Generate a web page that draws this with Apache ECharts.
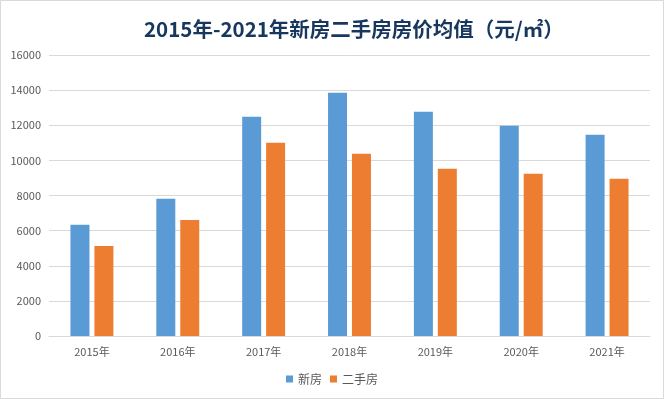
<!DOCTYPE html>
<html><head><meta charset="utf-8">
<script src="https://cdn.jsdelivr.net/npm/echarts@6/dist/echarts.min.js"></script>
<style>html,body{margin:0;padding:0;background:#fff}#c{width:664px;height:399px}</style>
</head><body><div id="c"></div>
<script>
const categories = ['2015年','2016年','2017年','2018年','2019年','2020年','2021年'];
const newHouse = [6330, 7810, 12490, 13850, 12770, 11970, 11460];
const secondHand = [5130, 6610, 11000, 10380, 9520, 9240, 8950];
const seriesNames = ['新房','二手房'];
const titleText = '2015年-2021年新房二手房房价均值（元/㎡）';

const chart = echarts.init(document.getElementById('c'), null, {renderer:'canvas'});
chart.setOption({
  animation:false,
  backgroundColor:'#fff',
  textStyle:{fontFamily:'"Noto Sans CJK SC", "Noto Sans", sans-serif'},
  graphic:[{type:'rect',shape:{x:0.5,y:0.5,width:663,height:398},style:{fill:'none',stroke:'#d9d9d9',lineWidth:1},silent:true}],
  title:{text:titleText,left:139,top:14,textStyle:{fontSize:20.5,fontWeight:'bold',color:'#17375e',fontFamily:'"Noto Sans CJK SC", sans-serif'}},
  legend:{data:seriesNames,bottom:9,left:'center',itemWidth:7,itemHeight:7,itemGap:8,icon:'rect',textStyle:{fontSize:12,color:'#595959'}},
  grid:{left:49,right:14,top:55,bottom:63,containLabel:false},
  xAxis:{type:'category',data:categories,axisLine:{lineStyle:{color:'#d9d9d9'}},axisTick:{show:false},
    axisLabel:{color:'#595959',fontSize:11,margin:10}},
  yAxis:{type:'value',min:0,max:16000,interval:2000,axisLine:{show:false},axisTick:{show:false},
    splitLine:{lineStyle:{color:'#d9d9d9',width:1}},axisLabel:{color:'#595959',fontSize:11,margin:8,formatter:function(v){return String(v);}}},
  series:[
    {name:seriesNames[0],type:'bar',data:newHouse,barWidth:19,barGap:'26%',itemStyle:{color:'#5b9bd5'}},
    {name:seriesNames[1],type:'bar',data:secondHand,barWidth:19,itemStyle:{color:'#ed7d31'}}
  ]
});
</script></body></html>
